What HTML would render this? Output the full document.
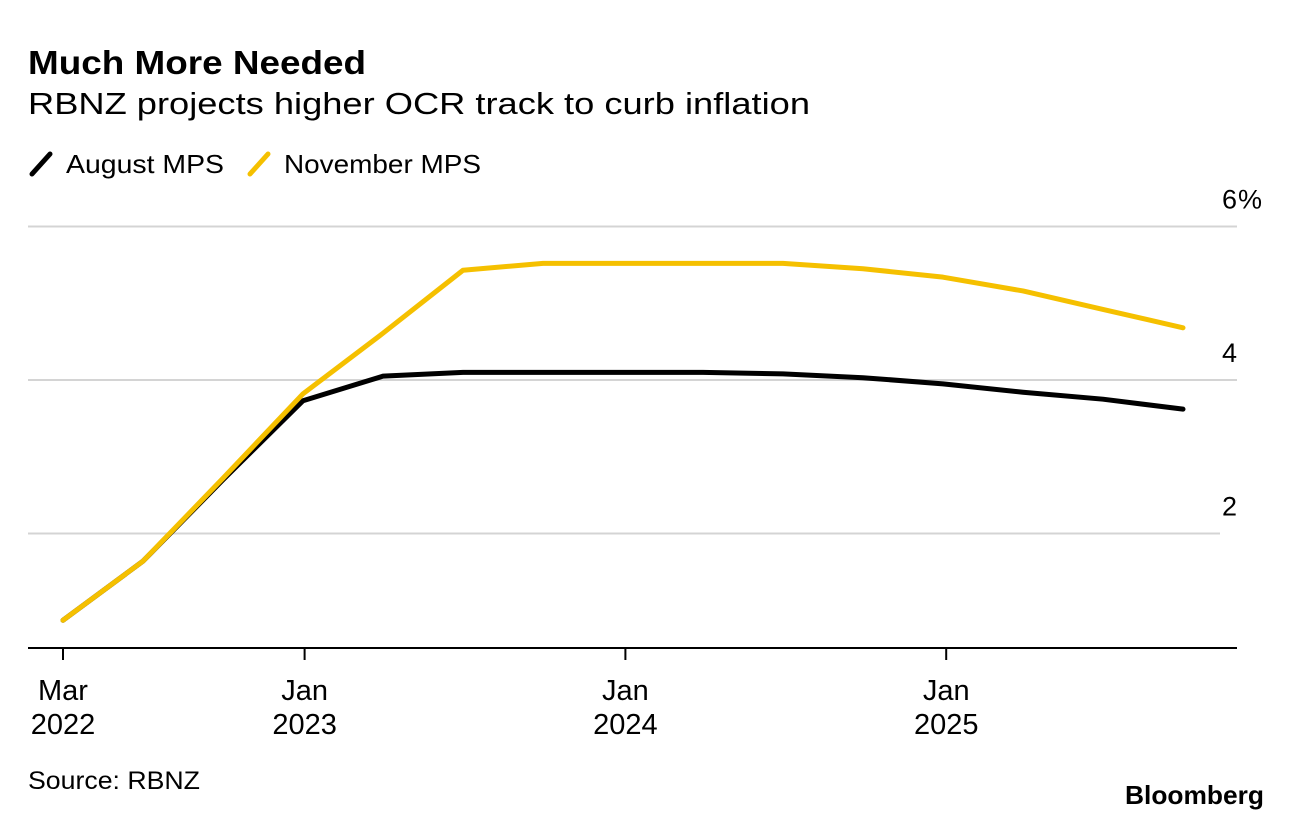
<!DOCTYPE html>
<html><head><meta charset="utf-8"><style>
body{margin:0;background:#fff;width:1292px;height:820px;overflow:hidden;font-family:"Liberation Sans",sans-serif;}
</style></head><body>
<svg width="1292" height="820" xmlns="http://www.w3.org/2000/svg" font-family="Liberation Sans, sans-serif">
<text x="28" y="74" font-size="33" font-weight="bold" fill="#000" textLength="338" lengthAdjust="spacingAndGlyphs">Much More Needed</text>
<text x="28" y="114" font-size="31" fill="#000" textLength="782" lengthAdjust="spacingAndGlyphs">RBNZ projects higher OCR track to curb inflation</text>
<g>
<line x1="32" y1="174" x2="50" y2="154" stroke="#000" stroke-width="5" stroke-linecap="round"/>
<text x="66" y="173" font-size="26" textLength="158" lengthAdjust="spacingAndGlyphs">August MPS</text>
<line x1="250" y1="174" x2="268" y2="154" stroke="#f5c000" stroke-width="5" stroke-linecap="round"/>
<text x="284" y="173" font-size="26" textLength="197" lengthAdjust="spacingAndGlyphs">November MPS</text>
</g>
<g id="grid"></g>
<g id="axis"></g>
<g id="series"></g>
<text x="28" y="789" font-size="25" textLength="172" lengthAdjust="spacingAndGlyphs">Source: RBNZ</text>
<text x="1125" y="804" font-size="26" font-weight="bold" textLength="139" lengthAdjust="spacingAndGlyphs">Bloomberg</text>
</svg>
<script>
const quarters=["Mar22","Jun22","Sep22","Dec22","Mar23","Jun23","Sep23","Dec23","Mar24","Jun24","Sep24","Dec24","Mar25","Jun25","Sep25"];
const august=[0.87,1.64,2.70,3.73,4.05,4.10,4.10,4.10,4.10,4.08,4.03,3.95,3.84,3.75,3.62];
const november=[0.87,1.64,2.72,3.82,4.61,5.43,5.52,5.52,5.52,5.52,5.45,5.34,5.16,4.92,4.68];
const yTicks=[2,4,6];
const yTickLabels=["2","4","6"];
const xTickPos=[0,3.02,7.03,11.04];
const xTickLabels=[["Mar","2022"],["Jan","2023"],["Jan","2024"],["Jan","2025"]];
const NS="http://www.w3.org/2000/svg";
const x=i=>63+i*80.0;
const y=v=>687-v*76.75;
function mk(t,a,p){const e=document.createElementNS(NS,t);for(const k in a)e.setAttribute(k,a[k]);p.appendChild(e);return e;}
const grid=document.getElementById('grid'),axis=document.getElementById('axis'),ser=document.getElementById('series');
yTicks.forEach((v,i)=>{
 const l=mk('line',{x1:28,x2:v===2?1220:1237,y1:y(v),y2:y(v),stroke:'#d4d4d4','stroke-width':2},grid);
 
 
 const t=mk('text',{x:1237,y:y(v)-18,'font-size':27,'text-anchor':'end'},grid);
 t.textContent=yTickLabels[i];
 
 
 if(i===yTicks.length-1){
  const pc=mk('text',{x:1238,y:y(v)-18,'font-size':27},grid);
  pc.textContent='%';
  
  
 }
});
const ax=mk('line',{x1:28,x2:1237,y1:648,y2:648,stroke:'#000','stroke-width':2},axis);


xTickPos.forEach((p,i)=>{
 const tk=mk('line',{x1:x(p),x2:x(p),y1:648,y2:660,stroke:'#000','stroke-width':2},axis);
 
 
 const t=mk('text',{x:x(p),y:700,'font-size':29,'text-anchor':'middle'},axis);
 
 
 const s1=mk('tspan',{x:x(p)},t);s1.textContent=xTickLabels[i][0];
 const s2=mk('tspan',{x:x(p),dy:34},t);s2.textContent=xTickLabels[i][1];
});
function line(data,color,name){
 const d=data.map((v,i)=>(i?'L':'M')+x(i)+','+y(v)).join(' ');
 const p=mk('path',{d:d,fill:'none',stroke:color,'stroke-width':5,'stroke-linejoin':'round','stroke-linecap':'round'},ser);
 
 
}
line(august,'#000','line-august-mps');
line(november,'#f5c000','line-november-mps');
</script>
</body></html>
